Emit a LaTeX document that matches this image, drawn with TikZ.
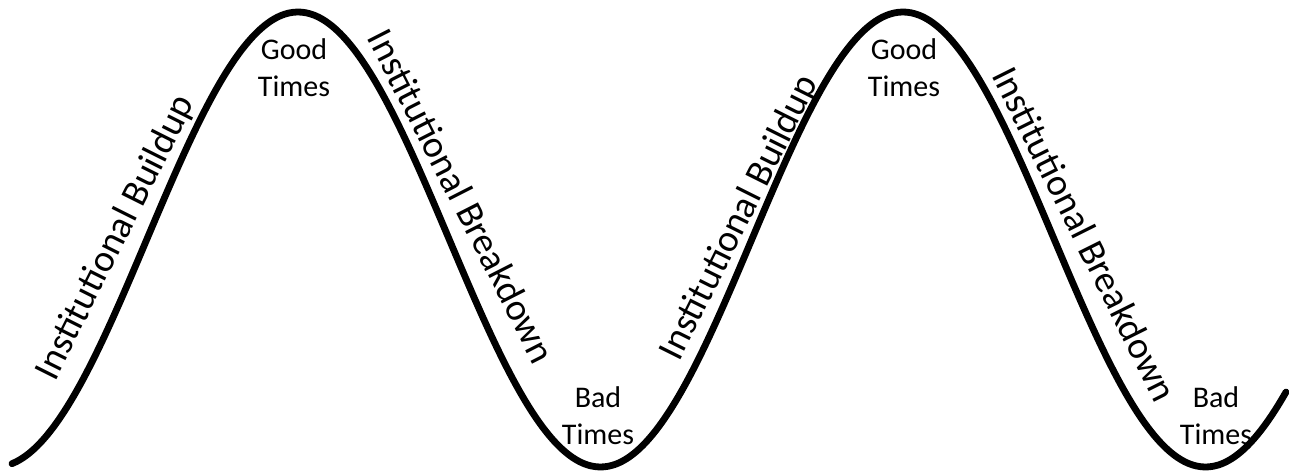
\documentclass[tikz,border=0pt]{standalone}
\usepackage{fontspec}
\setmainfont{Carlito}
\begin{document}
\begin{tikzpicture}[x=1pt,y=-1pt,
  wave/.style={line width=6.8pt,line cap=round,black},
  slopelabel/.style={font=\fontsize{38}{44}\selectfont,inner sep=0pt,text=black},
  timelabel/.style={font=\fontsize{30}{37}\selectfont,align=center,inner sep=0pt,text=black}]
\useasboundingbox (0,0) rectangle (1289,476);
\fill[white] (0,0) rectangle (1289,476);
\draw[wave] plot[domain=12:1286,samples=300,smooth] (\x,{239.5-227.5*cos(((\x-298)/605)*360)});
\node[slopelabel,rotate=63.4] (b1) at (116,238) {Institutional Buildup};
\node[slopelabel,rotate=-63] (d1) at (462,196) {Institutional Breakdown};
\node[slopelabel,rotate=63.5] (b2) at (740,218) {Institutional Buildup};
\node[slopelabel,rotate=-63.5] (d2) at (1085,234) {Institutional Breakdown};
\node[timelabel] (g1) at (294,68) {Good\\Times};
\node[timelabel] (g2) at (904,68) {Good\\Times};
\node[timelabel] (t1) at (598,416) {Bad\\Times};
\node[timelabel] (t2) at (1216,416) {Bad\\Times};
\end{tikzpicture}
\end{document}
